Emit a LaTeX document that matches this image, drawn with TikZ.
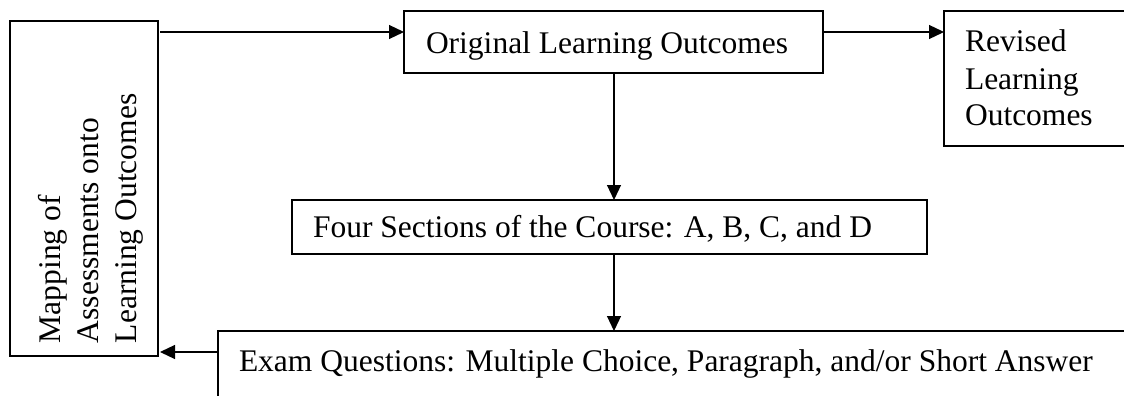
\documentclass[tikz,border=0pt]{standalone}
\usepackage{fontspec}
\setmainfont{Liberation Serif}
\usetikzlibrary{arrows.meta}
\tikzset{
  box/.style={draw=black, line width=1.6pt, rectangle, inner sep=0pt, outer sep=0pt, anchor=north west},
  txt/.style={font=\fontsize{31.5pt}{38pt}\selectfont, inner sep=0pt, outer sep=0pt, anchor=base west},
  vtxt/.style={txt, rotate=90},
  arr/.style={draw=black, line width=1.2pt, -{Triangle[length=15pt,width=14pt]}}
}
\begin{document}
\begin{tikzpicture}[x=1pt, y=-1pt]
\useasboundingbox (0,0) rectangle (1124,396);
\fill[white] (0,0) rectangle (1124,396);
\clip (0,0) rectangle (1124,396);

% boxes
\node[box, minimum width=148pt, minimum height=335pt] (map) at (10,21) {};
\node[box, minimum width=419pt, minimum height=62pt] (orig) at (404,11) {};
\node[box, minimum width=200pt, minimum height=135pt] (rev) at (944,11) {};
\node[box, minimum width=635pt, minimum height=54pt] (four) at (292,200) {};
\node[box, minimum width=950pt, minimum height=100pt] (exam) at (218,331) {};

% texts
\node[vtxt] (map1) at (60,343) {Mapping of};
\node[vtxt] (map2) at (98,343) {Assessments onto};
\node[vtxt] (map3) at (136,343) {Learning Outcomes};
\node[txt] (origt) at (426,53) {Original Learning Outcomes};
\node[txt] (rev1) at (965,52) {Revised};
\node[txt] (rev2) at (965,89) {Learning};
\node[txt] (rev3) at (965,125) {Outcomes};
\node[txt] (fourt) at (313,237) {Four Sections of the Course: A, B, C, and D};
\node[txt] (examt) at (239,371) {Exam Questions: Multiple Choice, Paragraph, and/or Short Answer};

% helper coordinates
\coordinate (ytop) at (0,32);
\coordinate (ybot) at (0,352);
\coordinate (xv) at (614,0);

% connectors
\draw[arr] ([xshift=2pt]map.east |- ytop) -- (orig.west |- ytop);
\draw[arr] (orig.east |- ytop) -- (rev.west |- ytop);
\draw[arr] (orig.south -| xv) -- (four.north -| xv);
\draw[arr] (four.south -| xv) -- (exam.north -| xv);
\draw[arr] (exam.west |- ybot) -- ([xshift=2pt]map.east |- ybot);
\end{tikzpicture}
\end{document}
